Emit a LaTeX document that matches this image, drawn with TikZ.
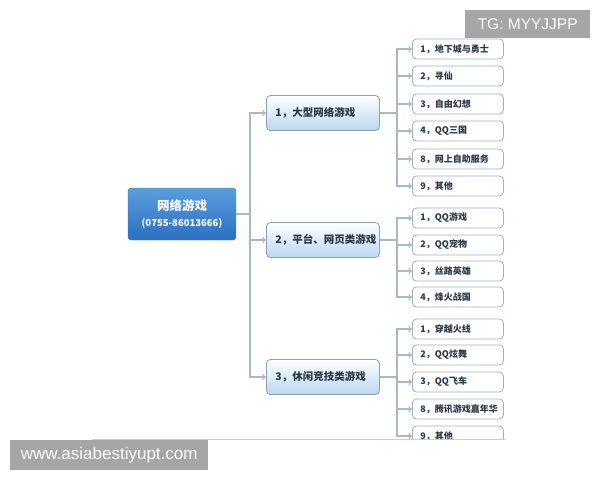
\documentclass[tikz,border=0pt]{standalone}
\usepackage{fontspec}
\setmainfont{Liberation Sans}
\newfontfamily\cjk{Noto Sans CJK SC}
\usetikzlibrary{calc}
\usetikzlibrary{arrows}
\usetikzlibrary{shapes.geometric,positioning}
\definecolor{linegray}{HTML}{A9B7C6}
\definecolor{roottop}{HTML}{5A9EDD}
\definecolor{rootbot}{HTML}{2C6FC0}
\definecolor{rootedge}{HTML}{3C7BC2}
\definecolor{catbot}{HTML}{BBD7F0}
\definecolor{catedge}{HTML}{8D9FB4}
\definecolor{leafedge}{HTML}{A3B0BF}
\definecolor{inkcol}{HTML}{2B3947}
\definecolor{markgray}{HTML}{A6A6A6}
\tikzset{
  rootbox/.style={rounded corners=3pt, draw=rootedge, top color=roottop, bottom color=rootbot,
    text=white, font=\cjk\bfseries, minimum width=108pt, minimum height=52pt, align=center, inner sep=0pt},
  catbox/.style={rounded corners=4pt, draw=catedge, line width=0.8pt, top color=white, bottom color=catbot,
    minimum height=35pt, text width=95pt, inner xsep=9pt, align=left, text=inkcol,
    font=\cjk\bfseries\fontsize{10.5}{12}\selectfont},
  leafbox/.style={rounded corners=4pt, draw=leafedge, line width=0.8pt, fill=white,
    minimum height=20pt, text width=75pt, inner xsep=8pt, inner ysep=0pt, align=left, text=inkcol,
    font=\cjk\bfseries\fontsize{9}{10}\selectfont},
  link/.style={draw=linegray, line width=1.3pt},
  linkarrow/.style={link, -to},
  markbox/.style={fill=markgray, text=white, inner sep=0pt, anchor=north west}
}
\begin{document}
\begin{tikzpicture}[x=1pt,y=-1pt]
  \useasboundingbox (0,0) rectangle (600,480);
  \begin{scope}
    \clip (0,0) rectangle (600,439);
    % root
    \node[rootbox] (root) at (182,214) {{\fontsize{12.5}{16}\selectfont 网络游戏}\\[4pt]{\fontsize{9.5}{12}\selectfont (0755-86013666)}};
    % categories
    \node[catbox, anchor=west] (cat1) at (266,113) {1，大型网络游戏};
    \node[catbox, anchor=west] (cat2) at (266,240) {2，平台、网页类游戏};
    \node[catbox, anchor=west] (cat3) at (266,377) {3，休闲竞技类游戏};
    \coordinate (rb) at (250,214);
    \draw[link] (root.east) -- (rb);
    \foreach \c in {cat1,cat2,cat3}
      \draw[linkarrow] (rb) |- (\c.west);
    % leaves, group 1
    \foreach \y/\t [count=\i] in {49/1，地下城与勇士, 76/2，寻仙, 104/3，自由幻想, 131/4，QQ三国, 159/8，网上自助服务, 186/9，其他}
      \node[leafbox, anchor=west] (a\i) at (412,\y) {\t};
    % leaves, group 2
    \foreach \y/\t [count=\i] in {218/1，QQ游戏, 245/2，QQ宠物, 271/3，丝路英雄, 297/4，烽火战国}
      \node[leafbox, anchor=west] (b\i) at (412,\y) {\t};
    % leaves, group 3
    \foreach \y/\t [count=\i] in {329/1，穿越火线, 355/2，QQ炫舞, 382/3，QQ飞车, 409/8，腾讯游戏嘉年华, 436/9，其他}
      \node[leafbox, anchor=west] (c\i) at (412,\y) {\t};
    %% branches
    \coordinate (ja) at (397,113);
    \coordinate (jb) at (397,240);
    \coordinate (jc) at (397,377);
    \draw[link] (cat1.east) -- (ja);
    \draw[link] (cat2.east) -- (jb);
    \draw[link] (cat3.east) -- (jc);
    \foreach \i in {1,...,6} \draw[linkarrow] (ja) |- (a\i.west);
    \foreach \i in {1,...,4} \draw[linkarrow] (jb) |- (b\i.west);
    \foreach \i in {1,...,5} \draw[linkarrow] (jc) |- (c\i.west);
  \end{scope}
  \draw[color=gray!40, line width=0.8pt] (92,439) -- (505,439);
  % watermarks
  \node[markbox, minimum width=125pt, minimum height=28pt] (tg) at (465,10) {\fontsize{15.5}{17}\selectfont TG: MYYJJPP};
  \node[markbox, minimum width=198pt, minimum height=30pt] (web) at (10,440) {\fontsize{17}{19}\selectfont www.asiabestiyupt.com};
\end{tikzpicture}
\end{document}
